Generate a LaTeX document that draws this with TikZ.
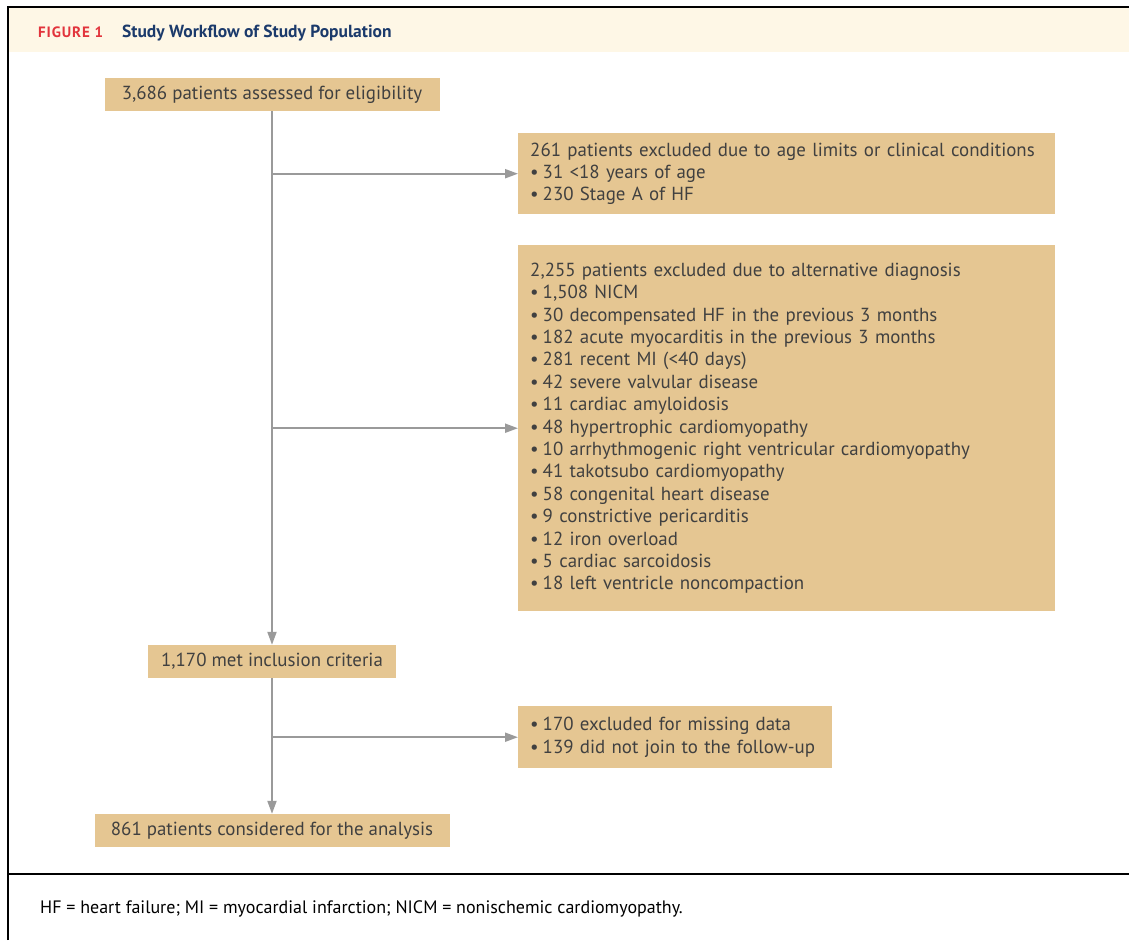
\documentclass[tikz,border=0pt]{standalone}
\usepackage{fontspec}
\setmainfont{PT Sans}
\usetikzlibrary{arrows.meta}
\definecolor{boxfill}{HTML}{E5C692}
\definecolor{headfill}{HTML}{FEF7E6}
\definecolor{figred}{HTML}{E2343C}
\definecolor{navy}{HTML}{1B3A6B}
\definecolor{txt}{HTML}{404040}
\definecolor{conn}{HTML}{9A9A9A}
\newcommand{\bul}{•\kern4pt}
\tikzset{
  flowbox/.style={fill=boxfill, text=txt, inner xsep=12pt, inner ysep=0pt, align=left,
     font=\fontsize{18.9}{22.4}\selectfont, anchor=center},
  onebox/.style={fill=boxfill, text=txt, inner xsep=0pt, inner ysep=0pt,
     font=\fontsize{18.9}{22.4}\selectfont, anchor=center},
  arr/.style={draw=conn, line width=2pt, -{Triangle[length=13pt,width=9pt]}},
}
\begin{document}
\begin{tikzpicture}[x=1pt,y=-1pt]
\useasboundingbox (0,0) rectangle (1129,940);
% header
\fill[headfill] (9,8) rectangle (1129,52);
\draw[black, line width=2pt] (8,940) -- (8,6.5) -- (1129,6.5);
\draw[black, line width=2.5pt] (8,874) -- (1129,874);
\node[anchor=base west, inner sep=0pt, text=figred, font=\fontsize{15}{18}\selectfont\bfseries\addfontfeatures{LetterSpace=6}] (figlabel) at (38,37) {FIGURE 1};
\node[anchor=base west, inner sep=0pt, text=navy, font=\fontsize{17.5}{20}\selectfont\bfseries] (figtitle) at (122,37) {Study Workflow of Study Population};
% boxes
\node[onebox, minimum width=335pt, minimum height=33pt] (b1) at (272,94.5) {3,686 patients assessed for eligibility};
\node[flowbox, minimum width=537pt, minimum height=81pt, text width=513pt, anchor=north west] (b2) at (518,133) {261 patients excluded due to age limits or clinical conditions\\
\bul 31 <18 years of age\\
\bul 230 Stage A of HF};
\node[flowbox, minimum width=537pt, minimum height=366pt, text width=513pt, anchor=north west] (b3) at (518,245) {2,255 patients excluded due to alternative diagnosis\\
\bul 1,508 NICM\\
\bul 30 decompensated HF in the previous 3 months\\
\bul 182 acute myocarditis in the previous 3 months\\
\bul 281 recent MI (<40 days)\\
\bul 42 severe valvular disease\\
\bul 11 cardiac amyloidosis\\
\bul 48 hypertrophic cardiomyopathy\\
\bul 10 arrhythmogenic right ventricular cardiomyopathy\\
\bul 41 takotsubo cardiomyopathy\\
\bul 58 congenital heart disease\\
\bul 9 constrictive pericarditis\\
\bul 12 iron overload\\
\bul 5 cardiac sarcoidosis\\
\bul 18 left ventricle noncompaction};
\node[onebox, minimum width=248pt, minimum height=33pt] (b4) at (272,661.5) {1,170 met inclusion criteria};
\node[flowbox, minimum width=314pt, minimum height=62pt, text width=290pt, anchor=north west] (b6) at (518,706) {\bul 170 excluded for missing data\\
\bul 139 did not join to the follow-up};
\node[onebox, minimum width=355pt, minimum height=33pt] (b5) at (272,830.5) {861 patients considered for the analysis};
% connectors
\draw[arr] (b1.south) -- (b4.north);
\draw[arr] (b1.south |- b2.west) -- (b2.west);
\draw[arr] (b1.south |- b3.west) -- (b3.west);
\draw[arr] (b4.south) -- (b5.north);
\draw[arr] (b4.south |- b6.west) -- (b6.west);
% footer
\node[anchor=base west, inner sep=0pt, text=black, font=\fontsize{18}{20}\selectfont] (foot) at (40,913) {HF = heart failure; MI = myocardial infarction; NICM = nonischemic cardiomyopathy.};
\end{tikzpicture}
\end{document}
